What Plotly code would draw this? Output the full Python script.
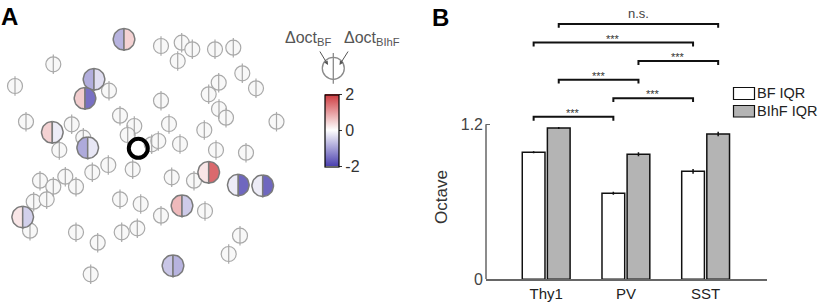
import numpy as np
import plotly.graph_objects as go

# ---------------- data ----------------
# Panel A: cell positions (field of view units) of non-responsive / gray cells
small_x = [161, 181.7, 192.3, 215, 233.3, 177.7, 53.3, 242.3, 218.7, 256, 15, 109, 208.7, 161,
           219, 226, 276.5, 26, 120, 71.7, 134.3, 169, 204.3, 83.3, 127.7, 151.7, 158.3, 180,
           59.3, 216, 246, 108.3, 132.7, 92.3, 65.3, 40, 76, 53.3, 171.7, 194, 33.7, 46.7, 120,
           140.7, 205, 161, 30, 76, 121.7, 137.3, 97.7, 240, 228.7, 90.7]
small_y = [46, 42.7, 49.3, 49.3, 47.7, 61, 64.3, 73.3, 82.7, 88.3, 86, 90.7, 94.3, 100.7,
           109, 117.7, 121.7, 121.7, 115.7, 124.3, 126, 124, 130, 137.7, 135, 144.3, 141, 144,
           150, 150, 152.7, 165, 169.3, 172.3, 176.7, 180.7, 186.7, 186.7, 177.3, 180.7, 201.7,
           199.3, 199.3, 204, 211, 215.7, 230.7, 232.3, 232.3, 228.3, 242.7, 235.7, 254, 274.3]

# Panel A: tuned cells with delta-octave values (left half = BF, right half = BIhF)
cell_x = [124, 94, 85, 52.3, 87.7, 208.7, 238.3, 262.7, 182, 22.7, 173]
cell_y = [39.3, 79.3, 98.3, 132.3, 147.7, 172.3, 185, 185.7, 205.7, 217, 265.7]
d_oct_bf = [-0.8, -0.85, 0.5, 0.45, -0.9, 0.25, -0.2, -0.2, 0.7, 0.25, -0.6]
d_oct_bihf = [0.45, -0.35, -1.5, -0.2, -0.25, 1.5, -1.6, -1.6, -0.55, -0.5, -0.8]
ref_cell = (138.3, 148.3)

# Panel B
categories = ["Thy1", "PV", "SST"]
bf_iqr = [0.982, 0.665, 0.835]
bf_err = [0.008, 0.012, 0.018]
bihf_iqr = [1.17, 0.967, 1.124]
bihf_err = [0.008, 0.015, 0.018]
series_names = ["BF IQR", "BIhF IQR"]
# comparisons: (category a, series a, category b, series b, label)
comparisons = [
    (0, 0, 1, 0, "***"),
    (1, 0, 2, 0, "***"),
    (0, 1, 1, 1, "***"),
    (1, 1, 2, 1, "***"),
    (0, 0, 2, 0, "***"),
    (0, 1, 2, 1, "n.s."),
]

# ---------------- styling ----------------
FONT = "Arial, Liberation Sans, sans-serif"
W, H = 820, 305
CMIN, CMAX = -2, 2
BLUE = (75, 65, 175)
RED = (205, 55, 60)
colorscale = [[0, "rgb(%d,%d,%d)" % BLUE], [0.5, "rgb(255,255,255)"], [1, "rgb(%d,%d,%d)" % RED]]
GRAY_SMALL = "#a9a9a9"
GRAY_CELL = "#7a7a7a"


def val_color(v):
    t = max(-1.0, min(1.0, v / CMAX))
    end = RED if t > 0 else BLUE
    a = abs(t)
    c = [round(255 + a * (e - 255)) for e in end]
    return "rgb(%d,%d,%d)" % tuple(c)


def half_circle(cx, cy, r, side, n=24):
    # side -1 = left half, +1 = right half
    ang = np.linspace(-np.pi / 2, np.pi / 2, n)
    xs = cx + side * r * np.cos(ang)
    ys = cy + r * np.sin(ang)
    return list(xs) + [xs[0]], list(ys) + [ys[0]]


fig = go.Figure()

# ---- Panel A ----
fig.add_trace(go.Scatter(x=small_x, y=small_y, mode="markers", xaxis="x2", yaxis="y2",
                         marker=dict(symbol="circle", size=15, color="#f8f8f8",
                                     line=dict(color=GRAY_SMALL, width=1.2)),
                         hoverinfo="skip", showlegend=False))
fig.add_trace(go.Scatter(x=small_x, y=small_y, mode="markers", xaxis="x2", yaxis="y2",
                         marker=dict(symbol="line-ns-open", size=14, color=GRAY_SMALL,
                                     line=dict(color=GRAY_SMALL, width=1.2)),
                         hoverinfo="skip", showlegend=False))

R_CELL = 10.8
for cx, cy, vl, vr in zip(cell_x, cell_y, d_oct_bf, d_oct_bihf):
    for side, v in ((-1, vl), (1, vr)):
        hx, hy = half_circle(cx, cy, R_CELL, side)
        fig.add_trace(go.Scatter(x=hx, y=hy, mode="lines", fill="toself",
                                 fillcolor=val_color(v), xaxis="x2", yaxis="y2",
                                 line=dict(color=GRAY_CELL, width=1.5),
                                 hoverinfo="skip", showlegend=False))

fig.add_trace(go.Scatter(x=[ref_cell[0]], y=[ref_cell[1]], mode="markers", xaxis="x2", yaxis="y2",
                         marker=dict(symbol="circle-open", size=19, color="black",
                                     line=dict(color="black", width=4)),
                         hoverinfo="skip", showlegend=False))

# colorbar host (invisible)
fig.add_trace(go.Scatter(x=[None], y=[None], mode="markers", xaxis="x2", yaxis="y2",
                         marker=dict(color=[0], colorscale=colorscale, cmin=CMIN, cmax=CMAX,
                                     showscale=True,
                                     colorbar=dict(x=325 / W, xanchor="left", xpad=0,
                                                   y=1 - 130.5 / H, yanchor="middle", ypad=0,
                                                   len=72, lenmode="pixels", thickness=14,
                                                   outlinewidth=1.2, outlinecolor="black",
                                                   tickvals=[-2, 0, 2], ticktext=["-2", "0", "2"],
                                                   ticks="outside", ticklen=3, tickcolor="#333",
                                                   tickfont=dict(family=FONT, size=16, color="#333"))),
                         hoverinfo="skip", showlegend=False))

# schematic cell
fig.add_trace(go.Scatter(x=[333.3], y=[68.3], mode="markers", xaxis="x2", yaxis="y2",
                         marker=dict(symbol="circle", size=22, color="white",
                                     line=dict(color="#8a8a8a", width=1.3)),
                         hoverinfo="skip", showlegend=False))
fig.add_trace(go.Scatter(x=[333.3], y=[68.3], mode="markers", xaxis="x2", yaxis="y2",
                         marker=dict(symbol="line-ns-open", size=22, color="#8a8a8a",
                                     line=dict(color="#8a8a8a", width=1.3)),
                         hoverinfo="skip", showlegend=False))

# ---- Panel B ----
xpos = list(range(len(categories)))
BW = 0.285
offsets = [-0.30, 0.015]
fills = ["white", "#b4b4b4"]
vals = [bf_iqr, bihf_iqr]
errs = [bf_err, bihf_err]
for s in range(2):
    fig.add_trace(go.Bar(x=xpos, y=vals[s], width=BW, offset=offsets[s], name=series_names[s],
                         marker=dict(color=fills[s], line=dict(color="#111", width=1.5)),
                         error_y=dict(type="data", array=errs[s], color="#111", thickness=1.5, width=0),
                         showlegend=False, hoverinfo="skip"))

BR_BASE, BR_STEP, BR_TICK = 1.257, 0.1436, 0.03
annotations = []
for k, (ca, sa, cb, sb, lab) in enumerate(comparisons):
    xa = ca + offsets[sa] + BW / 2
    xb = cb + offsets[sb] + BW / 2
    yl = BR_BASE + k * BR_STEP
    fig.add_trace(go.Scatter(x=[xa, xa, xb, xb], y=[yl - BR_TICK, yl, yl, yl - BR_TICK],
                             mode="lines", line=dict(color="#111", width=2),
                             hoverinfo="skip", showlegend=False))
    if lab == "n.s.":
        annotations.append(dict(x=(xa + xb) / 2, y=yl, xref="x", yref="y", text=lab, showarrow=False,
                                yanchor="bottom", yshift=1, font=dict(family=FONT, size=13, color="#444")))
    else:
        annotations.append(dict(x=(xa + xb) / 2, y=yl, xref="x", yref="y", text=lab, showarrow=False,
                                yanchor="bottom", yshift=-4, font=dict(family=FONT, size=11, color="#333")))

# y axis line (only 0..1.2)
shapes = [dict(type="line", xref="x domain", x0=0, x1=0, yref="y", y0=0, y1=1.2,
               line=dict(color="#666", width=1.5))]

# manual legend
leg_boxes = [(87.5, 99.5), (105.5, 117)]
for (t, b), f, nm in zip(leg_boxes, fills, series_names):
    shapes.append(dict(type="rect", xref="paper", yref="paper", x0=733.5 / W, x1=754.5 / W,
                       y0=1 - b / H, y1=1 - t / H, fillcolor=f, line=dict(color="#111", width=1.2)))
    annotations.append(dict(x=754.5 / W, y=1 - (t + b) / 2 / H, xref="paper", yref="paper", text=nm,
                            showarrow=False, xanchor="left", yanchor="middle",
                            font=dict(family=FONT, size=14.5, color="#222")))

# panel labels
annotations.append(dict(x=-1 / W, y=1 - 1 / H, xref="paper", yref="paper", text="<b>A</b>", showarrow=False,
                        xanchor="left", yanchor="top", font=dict(family=FONT, size=24, color="black")))
annotations.append(dict(x=430 / W, y=1 - 2 / H, xref="paper", yref="paper", text="<b>B</b>", showarrow=False,
                        xanchor="left", yanchor="top", font=dict(family=FONT, size=24, color="black")))

# y title
annotations.append(dict(x=441 / W, y=1 - 197 / H, xref="paper", yref="paper", text="Octave", showarrow=False,
                        textangle=-90, xanchor="center", yanchor="middle",
                        font=dict(family=FONT, size=17, color="#333")))

# schematic labels and arrows
annotations.append(dict(x=308 / W, y=1 - 38 / H, xref="paper", yref="paper",
                        text="Δoct<sub>BF</sub>", showarrow=False, xanchor="center", yanchor="middle",
                        font=dict(family=FONT, size=16, color="#555")))
annotations.append(dict(x=372 / W, y=1 - 38 / H, xref="paper", yref="paper",
                        text="Δoct<sub>BIhF</sub>", showarrow=False, xanchor="center", yanchor="middle",
                        font=dict(family=FONT, size=16, color="#555")))
for (hx, hy, tx, ty) in [(328, 65, 319, 50), (339.5, 65, 349, 50)]:
    annotations.append(dict(x=hx / W, y=1 - hy / H, xref="paper", yref="paper", text="",
                            showarrow=True, axref="pixel", ayref="pixel", ax=tx - hx, ay=ty - hy,
                            arrowhead=2, arrowsize=0.8, arrowwidth=1, arrowcolor="#555"))

fig.update_layout(
    width=W, height=H, margin=dict(l=0, r=0, t=0, b=0, autoexpand=False),
    paper_bgcolor="white", plot_bgcolor="rgba(0,0,0,0)",
    barmode="overlay",
    xaxis=dict(domain=[486 / W, 767 / W], range=[-0.755, 2.77], showgrid=False, zeroline=False,
               showline=True, linecolor="#666", linewidth=1.5, tickvals=xpos, ticktext=categories,
               ticks="", automargin=False,
               tickfont=dict(family=FONT, size=15, color="#222"), fixedrange=True),
    yaxis=dict(domain=[1 - 279.3 / H, 1 - 5 / H], range=[0, (279.3 - 5) / 129.3], showgrid=False,
               zeroline=False, showline=False, tickvals=[0, 1.2], ticktext=["0", "1.2"],
               ticks="inside", ticklen=4, tickcolor="#666", tickwidth=1.2, ticklabelstandoff=2,
               automargin=False,
               tickfont=dict(family=FONT, size=16, color="#444"), fixedrange=True),
    xaxis2=dict(domain=[0, 400 / W], range=[0, 400], visible=False, fixedrange=True, automargin=False),
    yaxis2=dict(domain=[0, 1], range=[H, 0], visible=False, fixedrange=True, automargin=False),
    shapes=shapes, annotations=annotations,
)

fig.write_html("out.html", config={"displayModeBar": False, "staticPlot": True},
               post_script="document.body.style.margin='0';document.body.style.overflow='hidden';")
